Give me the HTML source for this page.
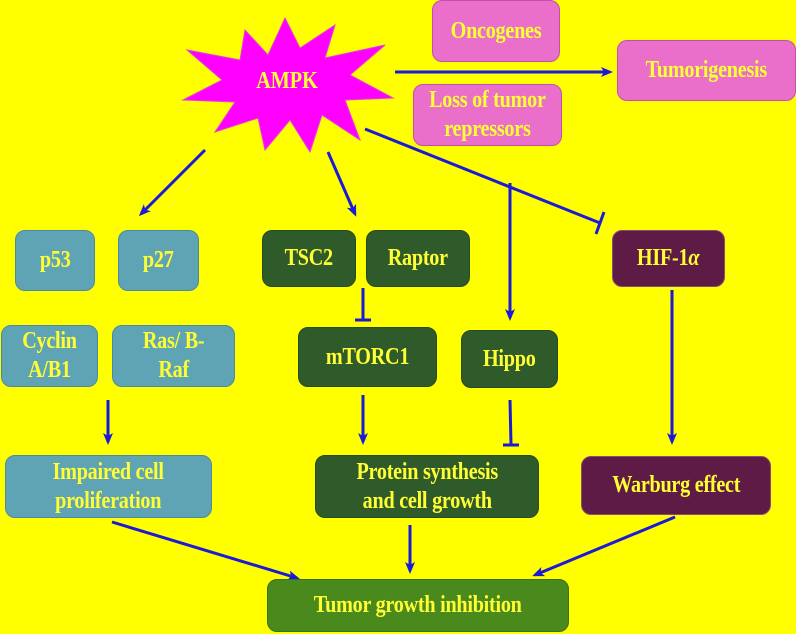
<!DOCTYPE html>
<html><head><meta charset="utf-8"><style>
body{margin:0;width:796px;height:634px;background:#ffff00;position:relative;overflow:hidden;font-family:"Liberation Serif",serif;}
.b{position:absolute;box-sizing:border-box;border-radius:10px;display:flex;align-items:center;justify-content:center;text-align:center;color:#ffff33;font-weight:bold;font-size:24px;line-height:31px;letter-spacing:-0.3px;}
.b span{display:inline-block;transform:scaleX(0.84);white-space:nowrap}
.t{background:#5fa4b4;border:1px solid #4a8aa0;}
.g{background:#2f5b2b;border:1px solid #244a20;}
.p{background:#5e1b46;border:1px solid #8a4a7a;}
.k{background:#e96fcb;border:1px solid #c050b0;}
svg{position:absolute;left:0;top:0}
</style></head><body>
<svg width="796" height="634">
<defs><marker id="a" markerWidth="12" markerHeight="12" refX="9" refY="6" orient="auto" markerUnits="userSpaceOnUse"><path d="M0,1 L12,6 L0,11 L3,6 Z" fill="#1a1ad8"/></marker></defs>
<polygon points="285,18 300,48 335,25 325,58 385,45 350,75 393,98 345,100 360,140 322,115 310,152 290,120 265,150 258,118 215,132 235,102 183,100 222,80 187,50 240,60 245,30 268,55" fill="#ff00ff" stroke="#e040e0"/>
<g stroke="#1a1ad8" stroke-width="3" fill="none">
<line x1="395" y1="72" x2="610" y2="72" marker-end="url(#a)"/>
<line x1="205" y1="150" x2="141" y2="214" marker-end="url(#a)"/>
<line x1="328" y1="152" x2="355" y2="214" marker-end="url(#a)"/>
<line x1="365" y1="129" x2="600" y2="223"/>
<line x1="596" y1="234" x2="604" y2="212"/>
<line x1="510" y1="183" x2="510" y2="318" marker-end="url(#a)"/>
<line x1="363" y1="288" x2="363" y2="320"/><line x1="355" y1="320" x2="371" y2="320"/>
<line x1="672" y1="290" x2="672" y2="442" marker-end="url(#a)"/>
<line x1="108" y1="400" x2="108" y2="442" marker-end="url(#a)"/>
<line x1="363" y1="395" x2="363" y2="442" marker-end="url(#a)"/>
<line x1="510" y1="400" x2="511" y2="445"/><line x1="503" y1="445" x2="519" y2="445"/>
<line x1="112" y1="522" x2="297" y2="578" marker-end="url(#a)"/>
<line x1="410" y1="525" x2="410" y2="571" marker-end="url(#a)"/>
<line x1="675" y1="517" x2="535" y2="575" marker-end="url(#a)"/>
</g>
<text x="287" y="88" text-anchor="middle" font-family="Liberation Serif" font-weight="bold" font-size="24" fill="#ffff33" transform="translate(287 0) scale(0.84 1) translate(-287 0)">AMPK</text>
</svg>
<div class="b k" style="left:432px;top:0;width:128px;height:62px"><span>Oncogenes</span></div>
<div class="b k" style="left:413px;top:84px;width:149px;height:62px;line-height:29px"><span>Loss of tumor<br>repressors</span></div>
<div class="b k" style="left:617px;top:40px;width:179px;height:61px"><span>Tumorigenesis</span></div>
<div class="b t" style="left:15px;top:230px;width:80px;height:61px"><span>p53</span></div>
<div class="b t" style="left:118px;top:230px;width:81px;height:61px"><span>p27</span></div>
<div class="b t" style="left:1px;top:325px;width:97px;height:62px;line-height:29px"><span>Cyclin<br>A/B1</span></div>
<div class="b t" style="left:112px;top:325px;width:123px;height:62px;line-height:29px"><span>Ras/ B-<br>Raf</span></div>
<div class="b g" style="left:262px;top:230px;width:94px;height:57px"><span>TSC2</span></div>
<div class="b g" style="left:366px;top:230px;width:104px;height:57px"><span>Raptor</span></div>
<div class="b g" style="left:298px;top:327px;width:139px;height:60px"><span>mTORC1</span></div>
<div class="b g" style="left:461px;top:330px;width:97px;height:58px"><span>Hippo</span></div>
<div class="b p" style="left:612px;top:230px;width:113px;height:57px"><span>HIF-1<i>α</i></span></div>
<div class="b t" style="left:5px;top:455px;width:207px;height:63px;line-height:29px"><span>Impaired cell<br>proliferation</span></div>
<div class="b g" style="left:315px;top:455px;width:224px;height:63px;line-height:29px"><span>Protein synthesis<br>and cell growth</span></div>
<div class="b p" style="left:581px;top:456px;width:190px;height:59px"><span>Warburg effect</span></div>
<div class="b" style="left:267px;top:579px;width:302px;height:53px;background:#4a8a1c;border:1px solid #3a7014"><span>Tumor growth inhibition</span></div>
</body></html>
